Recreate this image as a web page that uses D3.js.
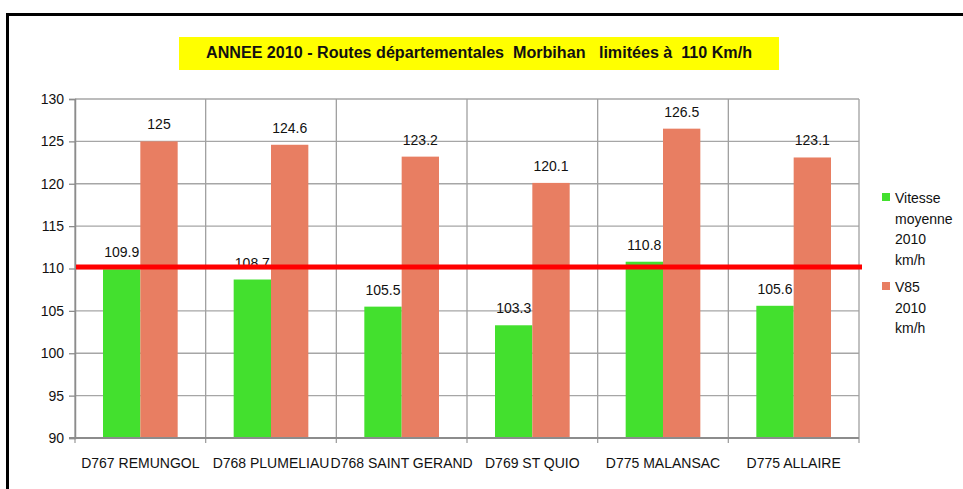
<!DOCTYPE html>
<html>
<head>
<meta charset="utf-8">
<script src="https://cdn.jsdelivr.net/npm/d3@7"></script>
<style>
  body { margin: 0; background: #fff; }
  text { font-family: "Liberation Sans", "DejaVu Sans", sans-serif; fill: #111; }
</style>
</head>
<body>
<div id="chart"></div>
<script>
// data
var categories = ["D767 REMUNGOL", "D768 PLUMELIAU", "D768 SAINT GERAND", "D769 ST QUIO", "D775 MALANSAC", "D775 ALLAIRE"];
var vitesse = [109.9, 108.7, 105.5, 103.3, 110.8, 105.6];
var v85 = [125, 124.6, 123.2, 120.1, 126.5, 123.1];
var yTicks = [90, 95, 100, 105, 110, 115, 120, 125, 130];
var limite = 110;
var seriesNames = [["Vitesse", "moyenne", "2010", "km/h"], ["V85", "2010", "km/h"]];
var colors = ["#43e02e", "#e87e62"];

var W = 963, H = 489;
var m = {left: 75, right: 104, top: 99, bottom: 51};

var svg = d3.select("#chart").append("svg")
    .attr("width", W).attr("height", H);

// outer frame
svg.append("rect")
    .attr("x", 7.5).attr("y", 14.5)
    .attr("width", W + 20).attr("height", H + 20)
    .attr("fill", "#fff").attr("stroke", "#000").attr("stroke-width", 3);

// title box
svg.append("rect")
    .attr("x", 179).attr("y", 37).attr("width", 600).attr("height", 33)
    .attr("fill", "#ffff00");
svg.append("text")
    .attr("x", 206).attr("y", 58)
    .attr("textLength", 546).attr("lengthAdjust", "spacingAndGlyphs")
    .style("font-weight", "bold").style("font-size", "16px")
    .style("white-space", "pre")
    .text("ANNEE 2010 - Routes départementales  Morbihan   limitées à  110 Km/h");

var x = d3.scaleBand().domain(categories).range([m.left, W - m.right]);
var y = d3.scaleLinear().domain([90, 130]).range([H - m.bottom, m.top]);
var inner = d3.scaleBand().domain([0, 1]).range([0, x.bandwidth()]).paddingInner(0).paddingOuter(0.75);

// horizontal grid
svg.append("g").selectAll("line").data(yTicks).join("line")
    .attr("x1", m.left).attr("x2", W - m.right)
    .attr("y1", function (d) { return y(d); }).attr("y2", function (d) { return y(d); })
    .attr("stroke", "#a6a6a6").attr("stroke-width", 1.3);

// vertical dividers between categories
var divs = categories.map(function (c) { return x(c); }).concat([W - m.right]);
svg.append("g").selectAll("line").data(divs).join("line")
    .attr("x1", function (d) { return d; }).attr("x2", function (d) { return d; })
    .attr("y1", m.top).attr("y2", H - m.bottom + 5)
    .attr("stroke", "#a0a0a0").attr("stroke-width", 1.3);

// y axis
var yAxis = svg.append("g")
    .attr("transform", "translate(" + m.left + ",0)")
    .call(d3.axisLeft(y).tickValues(yTicks).tickSize(6).tickPadding(5));
yAxis.select(".domain").attr("stroke", "#8c8c8c").attr("stroke-width", 1.5);
yAxis.selectAll(".tick line").attr("stroke", "#8c8c8c").attr("stroke-width", 1.3);
yAxis.selectAll(".tick text").style("font-size", "14px").attr("fill", "#111");

// bars
var rows = categories.map(function (c, i) { return {cat: c, vals: [vitesse[i], v85[i]]}; });
var groups = svg.append("g").selectAll("g").data(rows).join("g")
    .attr("transform", function (d) { return "translate(" + x(d.cat) + ",0)"; });
groups.selectAll("rect").data(function (d) { return d.vals; }).join("rect")
    .attr("x", function (d, i) { return inner(i); })
    .attr("width", inner.bandwidth())
    .attr("y", function (d) { return y(d); })
    .attr("height", function (d) { return y(90) - y(d); })
    .attr("fill", function (d, i) { return colors[i]; });

// x axis line
svg.append("line")
    .attr("x1", m.left - 6).attr("x2", W - m.right)
    .attr("y1", y(90)).attr("y2", y(90))
    .attr("stroke", "#8c8c8c").attr("stroke-width", 2);

// limit line
svg.append("line")
    .attr("x1", m.left + 1).attr("x2", W - m.right + 3)
    .attr("y1", y(limite) - 1.5).attr("y2", y(limite) - 1.5)
    .attr("stroke", "#ff0000").attr("stroke-width", 5);

// value labels
groups.selectAll("text.val").data(function (d) { return d.vals; }).join("text")
    .attr("class", "val")
    .attr("x", function (d, i) { return inner(i) + inner.bandwidth() / 2; })
    .attr("y", function (d) { return y(d) - 12; })
    .attr("text-anchor", "middle")
    .style("font-size", "14px")
    .text(function (d) { return d; });

// category labels
svg.append("g").selectAll("text").data(categories).join("text")
    .attr("x", function (d) { return x(d) + x.bandwidth() / 2; })
    .attr("y", H - m.bottom + 30)
    .attr("text-anchor", "middle")
    .style("font-size", "14px")
    .text(function (d) { return d; });

// legend
var legY = [198, 287];
seriesNames.forEach(function (lines, k) {
  svg.append("rect")
      .attr("x", 882).attr("y", legY[k] - 5).attr("width", 8).attr("height", 8)
      .attr("fill", colors[k]);
  var t = svg.append("text").attr("x", 895).attr("y", legY[k] + 5).style("font-size", "14px");
  lines.forEach(function (l, j) {
    t.append("tspan").attr("x", 895).attr("dy", j ? 20.7 : 0).text(l);
  });
});
</script>
</body>
</html>
